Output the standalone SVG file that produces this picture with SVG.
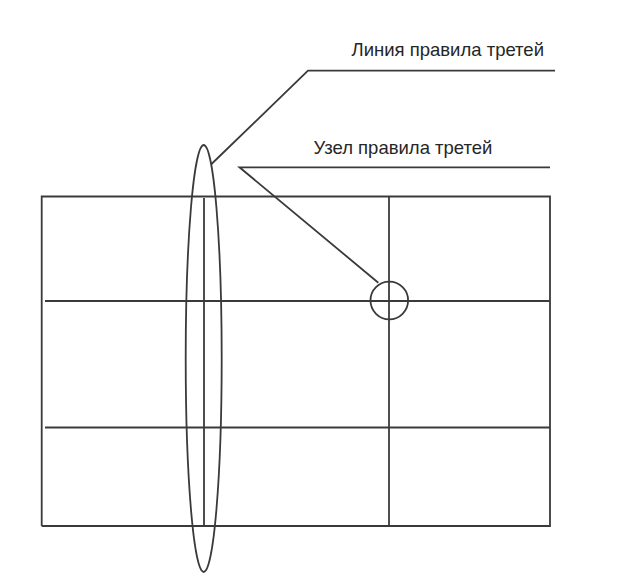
<svg xmlns="http://www.w3.org/2000/svg" width="620" height="573" viewBox="0 0 620 573">
<style>
.ln{fill:none;stroke:#3a3a3a;stroke-width:1.8;stroke-linecap:butt;stroke-linejoin:miter}
.lb{font-family:"Liberation Sans",Arial,sans-serif;font-size:18.5px;fill:#262626}
</style>
<rect width="620" height="573" fill="#ffffff"/>
<g id="grid">
<path class="ln" d="M41.7,526 V196.5 H550 V526 H41.7"/>
<line class="ln" x1="45" y1="301" x2="550" y2="301"/>
<line class="ln" x1="45" y1="427.5" x2="550" y2="427.5"/>
<line class="ln" x1="204" y1="198" x2="204" y2="526"/>
<line class="ln" x1="389" y1="196.5" x2="389" y2="526"/>
</g>
<g id="thirds-line-marker">
<ellipse class="ln" cx="203.7" cy="358.5" rx="18" ry="213.5"/>
</g>
<g id="thirds-node-marker">
<circle class="ln" cx="389.3" cy="300.5" r="18.8"/>
</g>
<g id="connectors">
<polyline class="ln" points="211.5,164 308,70.7 555,70.7"/>
<polyline class="ln" points="378.3,282.7 239.5,167.3 550,167.3"/>
</g>
<g id="label-line">
<text class="lb" x="351.5" y="55.5">Линия правила третей</text>
</g>
<g id="label-node">
<text class="lb" x="313.5" y="154">Узел правила третей</text>
</g>
</svg>
